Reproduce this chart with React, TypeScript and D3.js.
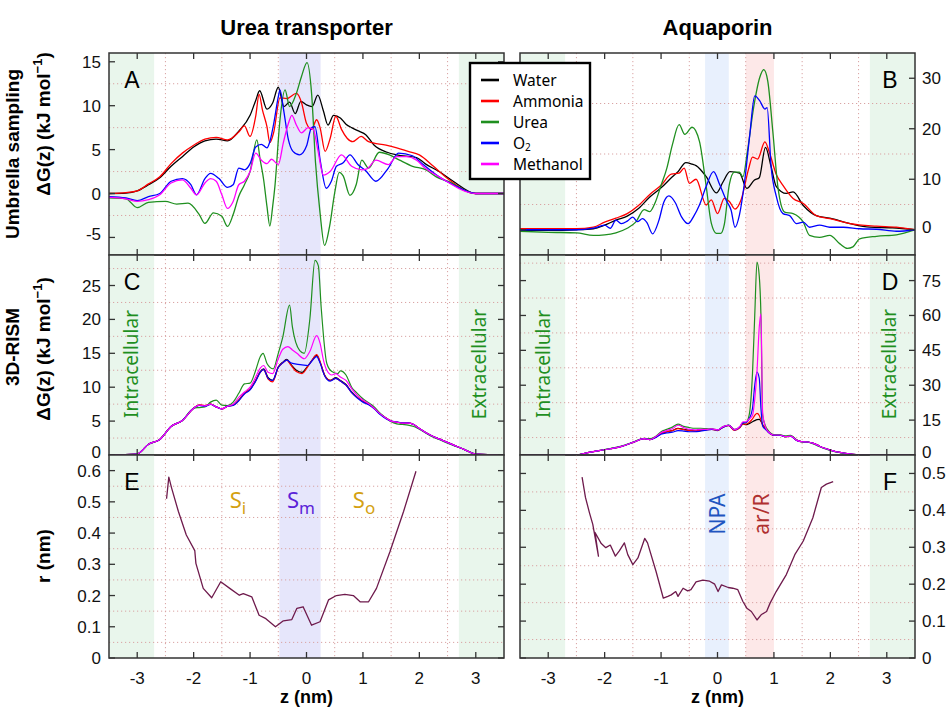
import React, { useEffect, useRef } from "react";
import * as d3 from "d3";

type Pt = [number, number];

// ---- shared axis values ----
const Z_TICKS = [-3, -2, -1, 0, 1, 2, 3];
const Z_GRID = [-2.5, -1.5, -0.5, 0.5, 1.5, 2.5];

const SPECIES = ["Water", "Ammonia", "Urea", "O2", "Methanol"];
const SPECIES_COLORS = ["#000000", "#ff0000", "#1f8f1f", "#0000ff", "#ff00ff"];

// ---- A: urea transporter, umbrella sampling (kJ/mol) ----
const A_WATER: Pt[] = [[-3.5,0],[-3.2,0.05],[-3.0,0.3],[-2.8,1.0],[-2.6,1.8],[-2.4,3.1],[-2.2,4.2],[-2.0,5.3],[-1.8,6.0],[-1.6,6.2],[-1.4,6.0],[-1.2,7.1],[-1.0,8.9],[-0.9,10.6],[-0.83,11.7],[-0.7,9.6],[-0.6,10.3],[-0.5,12.1],[-0.4,9.9],[-0.3,10.4],[-0.2,9.1],[-0.1,10.5],[0,10.1],[0.1,9.9],[0.2,11.2],[0.3,9.4],[0.38,7.8],[0.48,8.9],[0.6,8.6],[0.7,7.9],[0.8,7.5],[0.93,7.1],[1.05,6.7],[1.2,5.5],[1.43,4.7],[1.6,4.4],[1.95,4.1],[2.1,3.4],[2.35,2.5],[2.6,1.4],[3.0,0],[3.5,0]];
const A_AMMONIA: Pt[] = [[-3.5,0],[-3.2,0.1],[-3.0,0.3],[-2.8,1.1],[-2.6,1.9],[-2.4,3.4],[-2.2,4.6],[-2.0,5.5],[-1.8,6.2],[-1.6,6.4],[-1.4,6.1],[-1.2,7.0],[-1.1,7.7],[-1.0,6.5],[-0.9,8.8],[-0.84,11.3],[-0.78,9.5],[-0.7,7.6],[-0.65,5.8],[-0.58,7.0],[-0.47,10.9],[-0.35,10.8],[-0.18,11.4],[-0.09,10.4],[0,8.0],[0.09,7.3],[0.18,8.4],[0.24,7.5],[0.33,4.8],[0.42,6.3],[0.52,8.8],[0.62,7.3],[0.72,6.3],[0.82,5.9],[0.97,6.5],[1.1,5.9],[1.41,5.5],[1.6,5.2],[1.8,4.8],[2.0,4.4],[2.25,3.1],[2.5,1.7],[3.0,0],[3.5,0]];
const A_UREA: Pt[] = [[-3.5,-0.5],[-3.2,-0.6],[-3.0,-1.6],[-2.8,-1.0],[-2.5,-0.9],[-2.3,-1.2],[-2.1,-1.1],[-1.9,-2.4],[-1.8,-3.4],[-1.65,-2.2],[-1.5,-2.6],[-1.4,-3.75],[-1.3,-2.4],[-1.2,-0.3],[-1.1,1.0],[-1.0,2.5],[-0.88,6.1],[-0.82,3.8],[-0.76,1.6],[-0.7,-1.5],[-0.65,-3.7],[-0.6,-1.5],[-0.56,0.8],[-0.47,8.4],[-0.38,11.8],[-0.3,9.9],[-0.18,11.4],[-0.09,13.3],[0.01,14.9],[0.09,11.4],[0.16,3.5],[0.24,-2.2],[0.32,-5.9],[0.41,-3.7],[0.5,0.1],[0.58,2.4],[0.65,2.0],[0.77,-0.2],[0.88,1.0],[0.98,3.8],[1.1,2.9],[1.29,4.7],[1.47,4.4],[1.65,3.8],[1.88,3.1],[2.12,2.7],[2.3,1.9],[2.5,1.4],[3.0,0],[3.5,0]];
const A_O2: Pt[] = [[-3.5,-0.35],[-3.2,-0.5],[-3.0,-0.8],[-2.8,-0.35],[-2.6,0],[-2.4,1.4],[-2.2,1.7],[-2.05,1.0],[-1.95,-0.15],[-1.8,1.7],[-1.7,2.3],[-1.55,1.7],[-1.4,0.7],[-1.3,1.0],[-1.2,2.9],[-1.1,2.7],[-1.0,3.4],[-0.9,5.3],[-0.8,5.6],[-0.7,5.2],[-0.65,5.9],[-0.58,8.0],[-0.5,11.0],[-0.47,11.8],[-0.41,9.7],[-0.32,6.1],[-0.24,4.8],[-0.12,4.4],[0,5.4],[0.09,7.5],[0.15,7.6],[0.24,3.9],[0.35,0.6],[0.44,1.4],[0.53,3.1],[0.65,3.5],[0.77,4.4],[0.91,3.3],[1.05,2.6],[1.23,1.4],[1.45,2.9],[1.63,4.6],[1.88,4.3],[2.05,3.4],[2.35,1.9],[2.6,1.0],[3.0,0],[3.5,0]];
const A_METHANOL: Pt[] = [[-3.5,-0.45],[-3.2,-0.6],[-3.0,-0.9],[-2.8,-0.7],[-2.6,-0.15],[-2.4,1.2],[-2.2,1.55],[-2.05,0.6],[-1.95,-0.15],[-1.8,1.2],[-1.7,1.7],[-1.6,1.4],[-1.5,-0.15],[-1.4,-1.7],[-1.3,-0.9],[-1.2,1.0],[-1.1,1.4],[-1.0,2.5],[-0.9,4.6],[-0.8,3.8],[-0.7,3.4],[-0.62,3.9],[-0.5,3.3],[-0.41,5.8],[-0.32,8.0],[-0.26,8.9],[-0.18,7.8],[-0.09,6.9],[0.03,7.5],[0.12,7.3],[0.2,5.0],[0.3,2.1],[0.42,2.5],[0.62,4.4],[0.8,3.1],[0.98,2.7],[1.07,2.8],[1.23,3.8],[1.45,3.3],[1.6,4.2],[1.77,4.2],[1.95,3.8],[2.1,2.9],[2.35,1.9],[3.0,0],[3.5,0]];

// ---- B: aquaporin, umbrella sampling (kJ/mol) ----
const B_WATER: Pt[] = [[-3.5,-0.1],[-3.0,-0.1],[-2.5,0],[-2.2,0.2],[-2.0,0.9],[-1.8,1.9],[-1.6,2.7],[-1.4,4.2],[-1.2,6.5],[-1.0,8.3],[-0.8,10.5],[-0.7,11.5],[-0.56,13.3],[-0.45,13.0],[-0.38,12.7],[-0.2,10.5],[-0.02,7.3],[0.1,9.5],[0.22,11.5],[0.39,11.2],[0.52,8.2],[0.65,9.8],[0.74,10.3],[0.85,16.3],[0.95,12.5],[1.04,8.6],[1.22,7.2],[1.34,7.5],[1.52,4.8],[1.75,2.8],[1.99,2.3],[2.35,1.2],[2.7,0.5],[3.1,0.4],[3.5,0]];
const B_AMMONIA: Pt[] = [[-3.5,0.2],[-3.0,0.2],[-2.5,0.2],[-2.2,0.5],[-2.0,1.5],[-1.8,2.3],[-1.6,3.2],[-1.4,4.8],[-1.2,7.0],[-1.0,8.8],[-0.82,11.0],[-0.68,11.2],[-0.59,12.2],[-0.5,9.2],[-0.38,10.0],[-0.2,4.9],[-0.11,5.9],[0,3.2],[0.12,6.2],[0.21,5.6],[0.31,4.1],[0.42,6.0],[0.55,12.0],[0.62,14.4],[0.71,14.0],[0.84,17.4],[0.92,15.3],[1.04,11.0],[1.16,8.8],[1.34,6.2],[1.52,5.2],[1.75,2.8],[1.99,2.2],[2.35,1.2],[2.82,0.7],[3.17,0.5],[3.5,0]];
const B_UREA: Pt[] = [[-3.5,-0.3],[-3.0,-0.5],[-2.5,-0.6],[-2.2,-1.1],[-2.0,-1.0],[-1.8,-0.6],[-1.6,0.3],[-1.45,1.5],[-1.3,4.0],[-1.2,3.6],[-1.1,5.5],[-1.0,8.8],[-0.9,12.1],[-0.8,16.8],[-0.68,20.8],[-0.58,18.9],[-0.45,20.3],[-0.32,17.5],[-0.2,8.6],[-0.11,1.3],[-0.02,-0.7],[0.06,-0.7],[0.12,1.0],[0.21,9.0],[0.3,11.4],[0.39,11.4],[0.45,10.5],[0.53,15.5],[0.64,24.2],[0.75,30.2],[0.82,31.7],[0.89,29.5],[0.98,19.5],[1.07,8.5],[1.19,3.5],[1.34,3.2],[1.52,1.5],[1.63,-1.1],[1.81,-1.5],[1.99,-1.1],[2.17,-2.8],[2.3,-3.7],[2.4,-3.4],[2.52,-1.8],[2.82,-1.3],[3.17,-1.0],[3.5,0]];
const B_O2: Pt[] = [[-3.5,0],[-3.0,0],[-2.5,0],[-2.2,0.3],[-2.0,0.9],[-1.9,0.3],[-1.8,1.9],[-1.7,1.2],[-1.6,1.7],[-1.5,2.5],[-1.42,1.6],[-1.33,2.2],[-1.25,1.4],[-1.15,-0.8],[-1.04,1.8],[-0.95,5.5],[-0.86,6.7],[-0.75,5.4],[-0.64,2.6],[-0.52,1.2],[-0.42,2.7],[-0.32,4.9],[-0.2,8.6],[-0.07,11.5],[0.04,8.9],[0.16,5.7],[0.24,3.9],[0.31,0.5],[0.39,3.0],[0.48,9.5],[0.57,18.6],[0.66,26.5],[0.75,25.5],[0.84,23.9],[0.88,24.2],[0.95,12.5],[1.04,6.7],[1.16,3.2],[1.28,2.8],[1.4,1.2],[1.52,1.5],[1.63,0.5],[1.81,0.9],[1.99,0.5],[2.23,0.5],[2.52,0.2],[2.82,0.1],[3.17,-0.3],[3.5,0]];

// ---- C: urea transporter, 3D-RISM (kJ/mol) ----
const C_WATER: Pt[] = [[-3.5,0],[-3.0,0.15],[-2.8,1.6],[-2.6,2.3],[-2.4,4.2],[-2.2,5.1],[-2.0,6.9],[-1.9,7.35],[-1.8,7.25],[-1.7,7.5],[-1.6,7.1],[-1.5,6.8],[-1.4,7.2],[-1.3,7.35],[-1.2,8.1],[-1.1,9.1],[-1.0,9.7],[-0.9,11.0],[-0.82,12.3],[-0.76,12.7],[-0.68,11.4],[-0.6,11.0],[-0.5,13.0],[-0.42,13.7],[-0.35,14.1],[-0.28,13.4],[-0.18,12.5],[-0.08,12.2],[0.02,13.1],[0.1,14.0],[0.18,14.7],[0.24,13.7],[0.32,11.8],[0.42,11.0],[0.52,11.4],[0.6,11.0],[0.7,10.4],[0.8,9.3],[0.9,8.5],[1.0,7.9],[1.1,7.5],[1.2,6.9],[1.3,6.1],[1.4,5.5],[1.5,5.0],[1.6,4.85],[1.7,4.7],[1.8,4.7],[1.9,4.5],[2.0,3.9],[2.2,2.9],[2.4,2.2],[2.6,1.5],[2.8,0.8],[3.0,0.15],[3.5,0]];
const C_AMMONIA: Pt[] = [[-3.5,0],[-3.0,0.15],[-2.8,1.6],[-2.6,2.3],[-2.4,4.2],[-2.2,5.1],[-2.0,6.9],[-1.9,7.4],[-1.8,7.3],[-1.7,7.5],[-1.6,7.1],[-1.5,6.8],[-1.4,7.2],[-1.3,7.35],[-1.2,8.1],[-1.1,9.1],[-1.0,9.7],[-0.9,11.0],[-0.82,12.2],[-0.76,12.6],[-0.68,11.2],[-0.6,10.8],[-0.5,12.9],[-0.42,13.6],[-0.35,14.0],[-0.28,13.3],[-0.18,12.3],[-0.08,12.0],[0.02,13.0],[0.1,14.0],[0.18,14.8],[0.24,13.8],[0.32,11.8],[0.42,11.0],[0.52,11.3],[0.6,10.9],[0.7,10.3],[0.8,9.2],[0.9,8.5],[1.0,7.9],[1.1,7.5],[1.2,6.9],[1.3,6.1],[1.4,5.5],[1.5,5.0],[1.6,4.85],[1.7,4.7],[1.8,4.7],[1.9,4.5],[2.0,3.9],[2.2,2.9],[2.4,2.2],[2.6,1.5],[2.8,0.8],[3.0,0.15],[3.5,0]];
const C_UREA: Pt[] = [[-3.5,0],[-3.0,0.15],[-2.8,1.6],[-2.6,2.3],[-2.4,4.2],[-2.2,5.1],[-2.0,6.9],[-1.9,7.0],[-1.8,7.1],[-1.7,7.8],[-1.6,8.1],[-1.5,7.35],[-1.4,7.3],[-1.3,7.8],[-1.2,9.1],[-1.1,10.5],[-1.0,10.6],[-0.9,12.5],[-0.82,14.5],[-0.77,15.0],[-0.7,13.5],[-0.59,12.7],[-0.5,15.0],[-0.42,17.4],[-0.3,22.1],[-0.25,18.9],[-0.12,15.4],[-0.04,15.0],[0.06,20.1],[0.15,28.7],[0.21,27.9],[0.26,21.8],[0.36,13.5],[0.45,12.3],[0.55,12.0],[0.6,12.4],[0.7,11.8],[0.8,10.0],[0.9,9.1],[1.0,8.3],[1.1,7.7],[1.2,7.1],[1.3,6.2],[1.4,5.5],[1.5,4.9],[1.6,4.6],[1.7,4.5],[1.8,4.4],[1.9,4.2],[2.0,3.8],[2.2,2.8],[2.4,2.1],[2.6,1.4],[2.8,0.8],[3.0,0.15],[3.5,0]];
const C_O2: Pt[] = [[-3.5,0],[-3.0,0.15],[-2.8,1.6],[-2.6,2.3],[-2.4,4.2],[-2.2,5.1],[-2.0,6.9],[-1.9,7.3],[-1.8,7.2],[-1.7,7.45],[-1.6,7.1],[-1.5,6.8],[-1.4,7.2],[-1.3,7.3],[-1.2,8.0],[-1.1,9.0],[-1.0,9.6],[-0.9,10.9],[-0.82,12.2],[-0.76,12.6],[-0.68,11.3],[-0.6,11.0],[-0.5,12.9],[-0.42,13.6],[-0.35,14.0],[-0.28,13.6],[-0.18,13.4],[-0.08,13.3],[0.02,13.2],[0.1,13.9],[0.18,14.5],[0.24,13.6],[0.32,11.7],[0.42,10.9],[0.52,11.3],[0.6,10.9],[0.7,10.3],[0.8,9.2],[0.9,8.4],[1.0,7.8],[1.1,7.4],[1.2,6.8],[1.3,6.0],[1.4,5.4],[1.5,5.0],[1.6,4.9],[1.7,4.75],[1.8,4.75],[1.9,4.5],[2.0,3.9],[2.2,2.9],[2.4,2.2],[2.6,1.5],[2.8,0.8],[3.0,0.15],[3.5,0]];
const C_METHANOL: Pt[] = [[-3.5,0],[-3.0,0.15],[-2.8,1.6],[-2.6,2.3],[-2.4,4.2],[-2.2,5.1],[-2.0,6.9],[-1.9,7.35],[-1.8,7.25],[-1.7,7.5],[-1.6,7.1],[-1.5,6.8],[-1.4,7.2],[-1.3,7.5],[-1.2,8.5],[-1.1,9.3],[-1.0,10.0],[-0.9,11.5],[-0.82,12.8],[-0.76,13.2],[-0.68,12.2],[-0.6,12.0],[-0.5,14.2],[-0.42,15.6],[-0.33,16.0],[-0.25,15.5],[-0.17,15.0],[-0.04,14.2],[0.06,15.3],[0.18,17.6],[0.24,16.5],[0.3,14.0],[0.36,12.5],[0.45,11.8],[0.52,12.0],[0.6,11.5],[0.7,11.0],[0.8,9.8],[0.9,8.8],[1.0,8.1],[1.1,7.6],[1.2,6.9],[1.3,6.1],[1.4,5.5],[1.5,5.0],[1.6,4.85],[1.7,4.7],[1.8,4.7],[1.9,4.5],[2.0,3.9],[2.2,2.9],[2.4,2.2],[2.6,1.5],[2.8,0.8],[3.0,0.15],[3.5,0]];

// ---- D: aquaporin, 3D-RISM (kJ/mol), common z grid ----
const D_Z = [-3.5,-2.5,-2.3,-2.1,-1.9,-1.7,-1.5,-1.3,-1.2,-1.1,-1.0,-0.9,-0.8,-0.7,-0.6,-0.5,-0.4,-0.3,-0.2,-0.1,0,0.1,0.2,0.3,0.4,0.45,0.5,0.56,0.62,0.66,0.7,0.74,0.77,0.8,0.85,0.9,1.0,1.1,1.2,1.3,1.4,1.5,1.6,1.7,1.8,1.9,2.0,2.1,2.2,2.4,2.6,3.5];
const D_WATER = [0,0,1.0,1.9,2.7,3.7,5.4,7.0,6.6,7.6,9.3,10.0,10.5,11.5,11.0,10.6,10.4,10.6,10.9,11.1,10.7,12.0,12.7,10.8,12.0,13.5,13.0,13.5,14.3,14.8,15.2,15.3,14.5,13.0,11.5,10.0,8.6,8.6,7.9,8.1,6.4,5.7,5.6,5.0,3.9,2.9,2.1,1.4,1.0,0.3,0,0];
const D_AMMONIA = [0,0,1.0,1.9,2.7,3.7,5.4,7.0,6.6,7.6,9.3,10.0,10.5,11.3,10.9,10.5,10.3,10.6,10.8,11.0,10.5,12.0,12.6,10.6,11.8,13.3,13.2,14.0,15.5,17.0,17.9,17.0,15.0,13.0,11.5,10.0,8.5,8.6,7.9,8.1,6.4,5.7,5.6,5.0,3.9,2.9,2.1,1.4,1.0,0.3,0,0];
const D_UREA = [0,0,1.0,1.9,2.8,3.8,5.5,7.2,7.0,8.0,10.0,11.0,12.0,13.3,12.3,11.8,11.5,11.5,11.3,11.2,10.8,12.2,12.9,11.0,12.2,13.8,13.8,17,35,60,83,77,60,17,12.5,10.5,8.8,8.8,8.2,8.5,6.5,5.6,5.5,4.8,3.7,2.7,2.0,1.3,0.9,0.2,0,0];
const D_O2 = [0,0,1.0,1.9,2.7,3.7,5.4,7.0,6.6,7.4,8.9,9.5,9.8,10.5,10.3,10.0,10.0,10.3,10.7,11.0,10.7,12.0,12.7,10.8,12.2,13.8,14.0,15.5,20,30,35.7,33,20,12.5,11.0,9.8,8.5,8.5,7.9,8.0,6.3,5.7,5.6,5.0,3.9,2.9,2.1,1.4,1.0,0.3,0,0];
const D_METHANOL = [0,0,1.0,1.9,2.7,3.7,5.4,7.0,6.6,7.8,9.6,10.5,11.3,12.8,11.8,11.0,10.8,11.0,11.0,11.2,10.8,12.2,12.8,10.9,12.4,14.3,14.2,15.5,17,24,36,55,60.7,18,12.0,10.0,8.6,8.6,7.9,8.1,6.4,5.7,5.6,5.0,3.9,2.9,2.1,1.4,1.0,0.3,0,0];

// ---- E / F: pore radius profiles (nm) ----
const E_RADIUS: Pt[] = [[-2.48,0.51],[-2.44,0.579],[-2.39,0.544],[-2.27,0.469],[-2.13,0.394],[-1.98,0.344],[-1.96,0.303],[-1.83,0.223],[-1.68,0.193],[-1.52,0.244],[-1.36,0.223],[-1.19,0.201],[-1.12,0.206],[-0.97,0.196],[-0.84,0.137],[-0.72,0.126],[-0.55,0.1],[-0.41,0.119],[-0.26,0.123],[-0.17,0.159],[-0.06,0.164],[0.09,0.105],[0.24,0.116],[0.39,0.186],[0.53,0.2],[0.68,0.204],[0.83,0.2],[0.95,0.18],[1.1,0.18],[1.24,0.223],[1.48,0.341],[1.72,0.469],[1.94,0.598]];
const F_RADIUS: Pt[] = [[-2.4,0.49],[-2.34,0.435],[-2.27,0.394],[-2.21,0.362],[-2.11,0.276],[-2.17,0.34],[-2.06,0.31],[-1.98,0.299],[-1.9,0.306],[-1.81,0.276],[-1.74,0.29],[-1.65,0.312],[-1.59,0.28],[-1.5,0.253],[-1.41,0.271],[-1.29,0.324],[-1.24,0.312],[-1.09,0.235],[-0.96,0.162],[-0.88,0.167],[-0.82,0.171],[-0.74,0.18],[-0.7,0.167],[-0.61,0.189],[-0.53,0.182],[-0.47,0.185],[-0.38,0.206],[-0.26,0.211],[-0.14,0.208],[-0.05,0.2],[0.01,0.18],[0.07,0.198],[0.19,0.191],[0.27,0.189],[0.36,0.185],[0.45,0.153],[0.52,0.135],[0.6,0.126],[0.7,0.103],[0.78,0.118],[0.87,0.126],[0.93,0.148],[1.04,0.18],[1.22,0.226],[1.37,0.28],[1.52,0.317],[1.69,0.38],[1.84,0.462],[1.93,0.471],[2.05,0.478]];

// ---- region boundaries (nm) ----
const BULK_EDGE = 2.7;
const UT_SM: [number, number] = [-0.48, 0.25];
const AQP_NPA: [number, number] = [-0.22, 0.2];
const AQP_AR: [number, number] = [0.5, 1.0];

const SANS = "'Liberation Sans', Arial, Helvetica, sans-serif";
const ROUND = "'Noto Sans', 'DejaVu Sans', sans-serif";

const GREEN_BAND = "#e9f6ec";

interface Series { data: Pt[]; color: string; width: number; curve: any }
interface PanelCfg {
  col: number; row: number; domain: [number, number]; ticks: number[]; grid: number[];
  series: Series[]; letter: string; bands: { from: number; to: number; fill: string }[];
}

const zip = (zs: number[], vs: number[]): Pt[] => zs.map((z, i) => [z, vs[i]]);

export default function App() {
  const ref = useRef<SVGSVGElement>(null);

  useEffect(() => {
    const svg = d3.select(ref.current!);
    svg.selectAll("*").remove();

    const COLS: [number, number][] = [[109, 504], [520, 915]];
    const ROWS: [number, number][] = [[53, 255], [255, 455], [455, 658]];

    const leftBands = [
      { from: -3.5, to: -BULK_EDGE, fill: GREEN_BAND },
      { from: BULK_EDGE, to: 3.5, fill: GREEN_BAND },
      { from: UT_SM[0], to: UT_SM[1], fill: "#e6e6fb" },
    ];
    const rightBands = [
      { from: -3.5, to: -BULK_EDGE, fill: GREEN_BAND },
      { from: BULK_EDGE, to: 3.5, fill: GREEN_BAND },
      { from: AQP_NPA[0], to: AQP_NPA[1], fill: "#e8f0fd" },
      { from: AQP_AR[0], to: AQP_AR[1], fill: "#fde8e8" },
    ];

    const smooth = d3.curveMonotoneX;
    const mk = (list: Pt[][], w: number): Series[] =>
      list.map((d, i) => ({ data: d, color: SPECIES_COLORS[i], width: w, curve: smooth }));

    const panels: PanelCfg[] = [
      { col: 0, row: 0, domain: [-7, 16], ticks: [-5, 0, 5, 10, 15], grid: [-2.5, 2.5, 7.5, 12.5],
        series: mk([A_WATER, A_AMMONIA, A_UREA, A_O2, A_METHANOL], 1.3), letter: "A", bands: leftBands },
      { col: 1, row: 0, domain: [-5, 35], ticks: [0, 10, 20, 30], grid: [5, 15, 25],
        series: mk([B_WATER, B_AMMONIA, B_UREA, B_O2], 1.3), letter: "B", bands: rightBands },
      { col: 0, row: 1, domain: [0, 29.5], ticks: [0, 5, 10, 15, 20, 25], grid: [2.5, 7.5, 12.5, 17.5, 22.5, 27.5],
        series: mk([C_WATER, C_AMMONIA, C_UREA, C_O2, C_METHANOL], 1.2), letter: "C", bands: leftBands },
      { col: 1, row: 1, domain: [0, 86], ticks: [0, 15, 30, 45, 60, 75], grid: [7.5, 22.5, 37.5, 52.5, 67.5, 82.5],
        series: mk([zip(D_Z, D_WATER), zip(D_Z, D_AMMONIA), zip(D_Z, D_UREA), zip(D_Z, D_O2), zip(D_Z, D_METHANOL)], 1.2),
        letter: "D", bands: rightBands },
      { col: 0, row: 2, domain: [0, 0.65], ticks: [0, 0.1, 0.2, 0.3, 0.4, 0.5, 0.6], grid: [0.05, 0.15, 0.25, 0.35, 0.45, 0.55],
        series: [{ data: E_RADIUS, color: "#6e1a4c", width: 1.3, curve: d3.curveLinear }], letter: "E", bands: leftBands },
      { col: 1, row: 2, domain: [0, 0.55], ticks: [0, 0.1, 0.2, 0.3, 0.4, 0.5], grid: [0.05, 0.15, 0.25, 0.35, 0.45],
        series: [{ data: F_RADIUS, color: "#6e1a4c", width: 1.3, curve: d3.curveLinear }], letter: "F", bands: rightBands },
    ];

    const defs = svg.append("defs");

    panels.forEach((p, pi) => {
      const [x0, x1] = COLS[p.col];
      const [y0, y1] = ROWS[p.row];
      const x = d3.scaleLinear().domain([-3.5, 3.5]).range([x0, x1]);
      const y = d3.scaleLinear().domain(p.domain).range([y1, y0]);
      const g = svg.append("g");
      const clipId = `clip-${pi}`;
      defs.append("clipPath").attr("id", clipId)
        .append("rect").attr("x", x0).attr("y", y0).attr("width", x1 - x0).attr("height", y1 - y0);

      // shaded regions
      g.append("g").selectAll("rect").data(p.bands).join("rect")
        .attr("x", (b) => x(b.from)).attr("width", (b) => x(b.to) - x(b.from))
        .attr("y", y0).attr("height", y1 - y0).attr("fill", (b) => b.fill);

      // dotted grid at half steps
      const grid = g.append("g").attr("stroke", "#d9a3a3").attr("stroke-width", 1)
        .attr("stroke-dasharray", "1.2,2.8");
      grid.selectAll("line.v").data(Z_GRID).join("line").attr("class", "v")
        .attr("x1", (d) => x(d)).attr("x2", (d) => x(d)).attr("y1", y0).attr("y2", y1);
      grid.selectAll("line.h").data(p.grid).join("line").attr("class", "h")
        .attr("x1", x0).attr("x2", x1).attr("y1", (d) => y(d)).attr("y2", (d) => y(d));

      // curves
      const cg = g.append("g").attr("clip-path", `url(#${clipId})`);
      p.series.forEach((s) => {
        const line = d3.line<Pt>().x((d) => x(d[0])).y((d) => y(d[1])).curve(s.curve);
        cg.append("path").attr("d", line(s.data)!).attr("fill", "none")
          .attr("stroke", s.color).attr("stroke-width", s.width).attr("stroke-linejoin", "round");
      });

      // frame
      g.append("rect").attr("x", x0).attr("y", y0).attr("width", x1 - x0).attr("height", y1 - y0)
        .attr("fill", "none").attr("stroke", "#333").attr("stroke-width", 1.5);

      // inward ticks on all four sides
      const tk = g.append("g").attr("stroke", "#333").attr("stroke-width", 1.3);
      const TL = 6;
      Z_TICKS.forEach((t) => {
        tk.append("line").attr("x1", x(t)).attr("x2", x(t)).attr("y1", y0).attr("y2", y0 + TL);
        tk.append("line").attr("x1", x(t)).attr("x2", x(t)).attr("y1", y1).attr("y2", y1 - TL);
      });
      p.ticks.forEach((t) => {
        tk.append("line").attr("x1", x0).attr("x2", x0 + TL).attr("y1", y(t)).attr("y2", y(t));
        tk.append("line").attr("x1", x1).attr("x2", x1 - TL).attr("y1", y(t)).attr("y2", y(t));
      });

      // y tick labels (the lowest label of a stacked panel sits slightly higher)
      const lab = g.append("g").attr("font-family", SANS).attr("font-size", 17).attr("fill", "#111");
      p.ticks.forEach((t, i) => {
        const lift = i === 0 && p.row < 2 ? 3 : 0;
        lab.append("text")
          .attr("x", p.col === 0 ? x0 - 8 : x1 + 7)
          .attr("y", y(t) + 6 - lift)
          .attr("text-anchor", p.col === 0 ? "end" : "start")
          .text(String(t));
      });

      // x tick labels under the bottom row
      if (p.row === 2) {
        Z_TICKS.forEach((t) => {
          lab.append("text").attr("x", x(t)).attr("y", 684).attr("text-anchor", "middle").text(String(t));
        });
        g.append("text").attr("x", (x0 + x1) / 2).attr("y", 703).attr("text-anchor", "middle")
          .attr("font-family", SANS).attr("font-weight", "bold").attr("font-size", 18).text("z (nm)");
      }

      // panel letter
      g.append("text").attr("x", p.col === 0 ? x0 + 23 : x1 - 25).attr("y", y0 + 35)
        .attr("text-anchor", "middle").attr("font-family", SANS).attr("font-size", 23).attr("fill", "#000")
        .text(p.letter);
    });

    // column titles
    const titles = svg.append("g").attr("font-family", "'Liberation Sans Narrow', 'Liberation Sans', sans-serif")
      .attr("font-weight", "bold").attr("font-size", 22).attr("text-anchor", "middle");
    titles.append("text").attr("x", 306.5).attr("y", 35).text("Urea transporter");
    titles.append("text").attr("x", 717.5).attr("y", 35).text("Aquaporin");

    // rotated row and axis labels
    const rot = (cx: number, cy: number) => `translate(${cx},${cy}) rotate(-90)`;
    const side = svg.append("g").attr("font-family", SANS).attr("font-weight", "bold").attr("font-size", 19)
      .attr("text-anchor", "middle");
    side.append("text").attr("transform", rot(19, 154)).text("Umbrella sampling");
    side.append("text").attr("transform", rot(19, 347)).text("3D-RISM");
    const dG = (cy: number) => {
      const t = side.append("text").attr("transform", rot(50, cy));
      t.append("tspan").text("ΔG(z) (kJ mol");
      t.append("tspan").attr("dy", -8).attr("font-size", 13).text("−1");
      t.append("tspan").attr("dy", 8).text(")");
    };
    dG(124);
    dG(349);
    side.append("text").attr("transform", rot(50, 556)).text("r (nm)");

    // compartment labels
    const comp = svg.append("g").attr("font-family", ROUND).attr("font-size", 19).attr("fill", "#1f8f1f")
      .attr("text-anchor", "middle");
    [[138, "Intracellular"], [486, "Extracellular"], [550, "Intracellular"], [896, "Extracellular"]].forEach(([cx, s]) => {
      comp.append("text").attr("transform", rot(cx as number, 364)).text(s as string);
    });

    // pore region labels
    const reg = svg.append("g").attr("font-family", ROUND).attr("font-size", 22);
    const sub = (cx: number, main: string, idx: string, color: string) => {
      const t = reg.append("text").attr("x", cx).attr("y", 508).attr("fill", color).attr("text-anchor", "middle");
      t.append("tspan").text(main);
      t.append("tspan").attr("dy", 6).attr("font-size", 17).text(idx);
    };
    sub(238, "S", "i", "#d4a112");
    sub(301, "S", "m", "#5b22d8");
    sub(364, "S", "o", "#d4a112");
    reg.append("text").attr("transform", rot(725, 514)).attr("text-anchor", "middle").attr("font-size", 21)
      .attr("fill", "#1f55c0").text("NPA");
    reg.append("text").attr("transform", rot(769, 514)).attr("text-anchor", "middle").attr("font-size", 21)
      .attr("fill", "#b03030").text("ar/R");

    // legend
    const lg = svg.append("g");
    lg.append("rect").attr("x", 470).attr("y", 63).attr("width", 120).attr("height", 116)
      .attr("fill", "#fff").attr("stroke", "#000").attr("stroke-width", 2.4);
    SPECIES.forEach((name, i) => {
      const ly = 80 + i * 21;
      lg.append("line").attr("x1", 481).attr("x2", 499).attr("y1", ly).attr("y2", ly)
        .attr("stroke", SPECIES_COLORS[i]).attr("stroke-width", 2.6);
      const t = lg.append("text").attr("x", 513).attr("y", ly + 5.5).attr("font-family", ROUND)
        .attr("font-size", 15.5).attr("fill", "#000");
      if (name === "O2") {
        t.append("tspan").text("O");
        t.append("tspan").attr("dy", 2).attr("font-size", 10).text("2");
      } else {
        t.text(name);
      }
    });
  }, []);

  return (
    <div style={{ position: "absolute", left: 0, top: 0 }}>
      <svg ref={ref} width={951} height={708} style={{ display: "block", background: "#fff" }} />
    </div>
  );
}
